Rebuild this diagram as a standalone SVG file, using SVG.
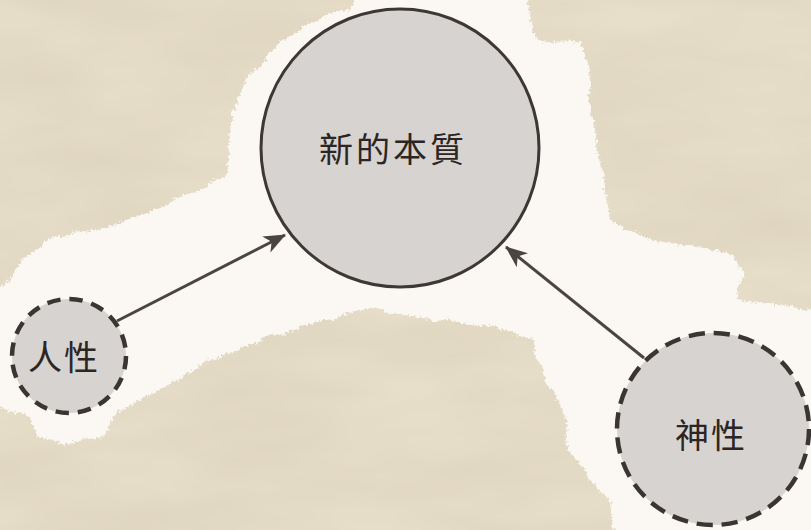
<svg xmlns="http://www.w3.org/2000/svg" width="811" height="530" viewBox="0 0 811 530">
  <defs>
    <filter id="torn" x="-5%" y="-5%" width="110%" height="110%">
      <feTurbulence type="fractalNoise" baseFrequency="0.05" numOctaves="2" seed="4" result="n1"/>
      <feDisplacementMap in="SourceGraphic" in2="n1" scale="8" xChannelSelector="R" yChannelSelector="G" result="d1"/>
      <feTurbulence type="fractalNoise" baseFrequency="0.35" numOctaves="2" seed="9" result="n2"/>
      <feDisplacementMap in="d1" in2="n2" scale="7" xChannelSelector="R" yChannelSelector="G"/>
    </filter>
    <filter id="grain" x="0" y="0" width="100%" height="100%">
      <feTurbulence type="fractalNoise" baseFrequency="0.006 0.02" numOctaves="3" seed="7" result="t"/>
      <feColorMatrix in="t" type="matrix" values="0 0 0 0 0.55  0 0 0 0 0.48  0 0 0 0 0.36  0 0 0 0.35 -0.05"/>
    </filter>
    <marker id="arrow" markerUnits="userSpaceOnUse" markerWidth="24" markerHeight="20" refX="21" refY="9" orient="auto">
      <path d="M0,0 L22,9 L0,18 L6,9 z" fill="#4a4443"/>
    </marker>
    <style>
      .solid { fill: #d7d3d0; stroke: #3d3836; stroke-width: 3; }
      .dash { fill: #d7d3d0; stroke: #3a3533; stroke-width: 4.5; }
      .label { font-family: "Noto Sans CJK TC", "Noto Sans CJK SC", sans-serif; font-size: 34px; fill: #2b2624; text-anchor: middle; dominant-baseline: central; }
      .edge { stroke: #4a4443; stroke-width: 3; fill: none; marker-end: url(#arrow); }
    </style>
  </defs>

  <rect x="0" y="0" width="811" height="530" fill="#e8dfca"/>
  <rect x="0" y="0" width="811" height="530" filter="url(#grain)"/>

  <path id="paper" filter="url(#torn)" fill="#fbf8f4"
        d="M363,-10 L530,-10 L528,20 L540,42 L580,43 L590,63 L588,100 L595,130 L600,165 L607,200 L610,223 L640,237 L680,245 L720,250 L735,257 L743,273 L737,300 L767,303 L800,307 L820,310 L820,540 L618,540 L610,500 L590,482 L570,450 L563,410 L545,380 L537,360 L533,340 L500,327 L433,320 L373,308 L300,327 L267,337 L233,353 L200,365 L170,385 L140,400 L117,412 L100,437 L67,443 L37,437 L30,417 L-10,405 L-10,290 L10,280 L23,260 L50,240 L60,235 L100,230 L140,215 L175,200 L200,190 L225,175 L230,160 L232,115 L245,80 L260,67 L283,40 L317,20 L350,7 Z"/>

  <g id="connectors">
    <line class="edge" x1="117" y1="321" x2="285" y2="235"/>
    <line class="edge" x1="644" y1="358" x2="506" y2="247"/>
  </g>

  <g id="node-essence">
    <circle class="solid" cx="400" cy="148" r="139"/>
    <text class="label" x="393" y="147" letter-spacing="3">新的本質</text>
  </g>

  <g id="node-human">
    <circle class="dash" cx="69" cy="356" r="57" stroke-dasharray="13.4 8.98"/>
    <text class="label" x="64" y="355" letter-spacing="2">人性</text>
  </g>

  <g id="node-divine">
    <circle class="dash" cx="713" cy="429" r="96" stroke-dasharray="16.2 8.93"/>
    <text class="label" x="711" y="433" letter-spacing="2">神性</text>
  </g>
</svg>
